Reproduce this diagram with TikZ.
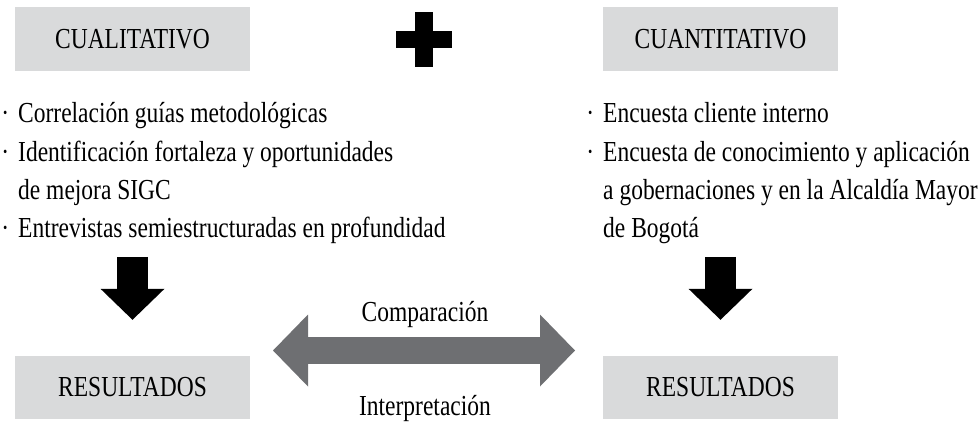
\documentclass[tikz,border=0pt]{standalone}
\usepackage{fontspec}
\newfontfamily\bodyfont{Liberation Serif}[FakeStretch=0.81]
\usepackage{tikz}
\usetikzlibrary{arrows.meta, positioning}

\definecolor{boxgray}{HTML}{D9DADB}
\definecolor{arrowgray}{HTML}{6E6F72}

\begin{document}
\begin{tikzpicture}[
  x=1pt, y=-1pt,
  txt/.style={font={\bodyfont\fontsize{29}{38.7}\selectfont}, inner sep=0pt},
  head/.style={txt, fill=boxgray, minimum width=235pt, minimum height=63pt},
  item/.style={txt, anchor=base west},
  downarr/.style={line width=31pt, -{Triangle[length=31pt, width=64pt, line width=0pt]}},
  cmparr/.style={line width=27pt, color=arrowgray,
    {Triangle[length=35pt, width=72pt, line width=0pt]}-{Triangle[length=35pt, width=72pt, line width=0pt]}}
]
\useasboundingbox (0,0) rectangle (979,436);

% headings
\node[head] (cual) at (132.5,39) {CUALITATIVO};
\node[head] (cuan) at (720.5,39) {CUANTITATIVO};
\fill (396,31) rectangle (452,48);
\fill (415,12) rectangle (433,67);

% qualitative items
\node[item] (cl1) at (18,122) {\llap{·\hspace{9pt}}Correlación guías metodológicas};
\node[item] (cl2) at (18,161) {\llap{·\hspace{9pt}}Identificación fortaleza y oportunidades};
\node[item] (cl3) at (18,199) {de mejora SIGC};
\node[item] (cl4) at (18,237) {\llap{·\hspace{9pt}}Entrevistas semiestructuradas en profundidad};

% quantitative items
\node[item] (cn1) at (603,122) {\llap{·\hspace{9pt}}Encuesta cliente interno};
\node[item] (cn2) at (603,161) {\llap{·\hspace{9pt}}Encuesta de conocimiento y aplicación};
\node[item] (cn3) at (603,199) {a gobernaciones y en la Alcaldía Mayor};
\node[item] (cn4) at (603,237) {de Bogotá};

% results
\node[head] (resL) at (132.5,387.5) {RESULTADOS};
\node[head] (resR) at (720.5,387.5) {RESULTADOS};

\draw[downarr] ([yshift=99pt]resL.north) -- ([yshift=36pt]resL.north);
\draw[downarr] ([yshift=99pt]resR.north) -- ([yshift=36pt]resR.north);

% comparison
\coordinate (cmpL) at (273,350.5);
\coordinate (cmpR) at (575,350.5);
\draw[cmparr] (cmpL) -- (cmpR);
\node[txt, anchor=base] (cmp) at (425,321) {Comparación};
\node[txt, anchor=base] (intp) at (425,415) {Interpretación};
\end{tikzpicture}
\end{document}
